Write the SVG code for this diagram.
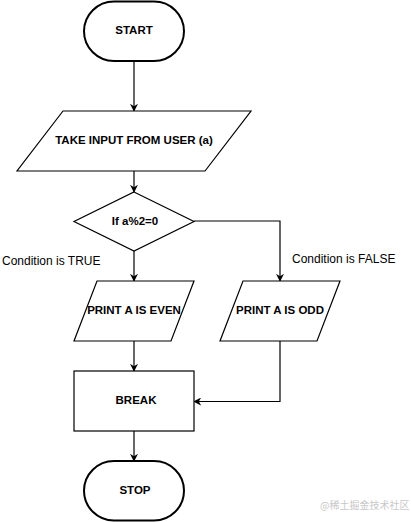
<svg xmlns="http://www.w3.org/2000/svg" width="411" height="522" viewBox="0 0 411 522">
<style>
.shape{fill:#fff;stroke:#000;stroke-width:1.2}
.term{fill:#fff;stroke:#000;stroke-width:2}
.lbl{font-family:"Liberation Sans",Arial,sans-serif;font-size:11.5px;font-weight:bold;fill:#000;text-anchor:middle;dominant-baseline:central}
.note{font-family:"Liberation Sans",Arial,sans-serif;font-size:12px;fill:#000;dominant-baseline:central}
.edge{fill:none;stroke:#000;stroke-width:1.2}
.wm{font-family:"Noto Sans CJK SC","Liberation Sans",sans-serif;font-size:10px;fill:#c8c8c8;dominant-baseline:central}
</style>
<defs>
<marker id="arr" viewBox="0 0 10 10" refX="9" refY="5" markerWidth="8" markerHeight="8" markerUnits="userSpaceOnUse" orient="auto">
<path d="M0,0 L10,5 L0,10 L3,5 z" fill="#000"/>
</marker>
</defs>
<rect width="411" height="522" fill="#fff"/>
<g id="edges">
<path class="edge" d="M134,61 V111" marker-end="url(#arr)"/>
<path class="edge" d="M134,171 V192" marker-end="url(#arr)"/>
<path class="edge" d="M134,251 V281" marker-end="url(#arr)"/>
<path class="edge" d="M194,221 H280 V281" marker-end="url(#arr)"/>
<path class="edge" d="M134,341 V371" marker-end="url(#arr)"/>
<path class="edge" d="M280,341 V401.5 H194" marker-end="url(#arr)"/>
<path class="edge" d="M134,431 V461" marker-end="url(#arr)"/>
</g>
<g id="start">
<rect class="term" x="84" y="1.5" width="100" height="59.5" rx="30" ry="30"/>
<text class="lbl" x="134" y="30">START</text>
</g>
<g id="input">
<polygon class="shape" points="63,111 251,111 205,171 17,171"/>
<text class="lbl" x="134" y="140">TAKE INPUT FROM USER (a)</text>
</g>
<g id="decision">
<polygon class="shape" points="134,192 194,221.5 134,251 74,221.5"/>
<text class="lbl" x="135" y="221">If a%2=0</text>
</g>
<g id="label-true">
<text class="note" x="2" y="261">Condition is TRUE</text>
</g>
<g id="label-false">
<text class="note" x="292" y="259">Condition is FALSE</text>
</g>
<g id="print-even">
<polygon class="shape" points="97,281 194,281 171,341 74,341"/>
<text class="lbl" x="134" y="310">PRINT A IS EVEN</text>
</g>
<g id="print-odd">
<polygon class="shape" points="243,281 340,281 317,341 220,341"/>
<text class="lbl" x="280" y="310">PRINT A IS ODD</text>
</g>
<g id="break">
<rect class="shape" x="74" y="371" width="120" height="60"/>
<text class="lbl" x="136" y="399.5">BREAK</text>
</g>
<g id="stop">
<rect class="term" x="84" y="461" width="100" height="59.5" rx="30" ry="30"/>
<text class="lbl" x="135" y="489.5">STOP</text>
</g>
<text class="wm" x="320" y="504">@稀土掘金技术社区</text>
</svg>
